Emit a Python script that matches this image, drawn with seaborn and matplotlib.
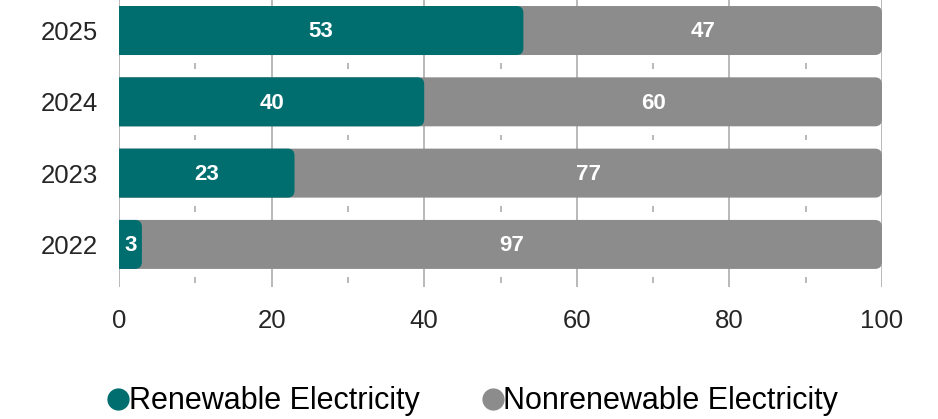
import matplotlib
matplotlib.use("Agg")
import matplotlib.pyplot as plt
from matplotlib.patches import FancyBboxPatch
from matplotlib.lines import Line2D
import pandas as pd
import seaborn as sns

years = ["2025", "2024", "2023", "2022"]
renewable = [53, 40, 23, 3]
nonrenewable = [47, 60, 77, 97]
series_names = ["Renewable Electricity", "Nonrenewable Electricity"]
colors = ["#006d6f", "#8c8c8c"]

df = pd.DataFrame({"year": years, "renewable": renewable, "nonrenewable": nonrenewable})
df["total"] = df["renewable"] + df["nonrenewable"]

sns.set_style("white")
plt.rcParams["font.family"] = ["Liberation Sans", "DejaVu Sans"]

fig = plt.figure(figsize=(9.38, 4.19), dpi=100)
ax = fig.add_axes([119 / 938, 1 - 287 / 419, 763 / 938, 287 / 419])

bar_w = 0.687
sns.barplot(data=df, y="year", x="total", color=colors[1], width=bar_w,
            orient="h", ax=ax, saturation=1, zorder=2)
sns.barplot(data=df, y="year", x="renewable", color=colors[0], width=bar_w,
            orient="h", ax=ax, saturation=1, zorder=3)

ax.set_xlim(0, 100)
ax.set_ylim(3.597, -0.428)

# swap plain rectangles for ones with rounded right corners
x_per_px = 100 / 763
y_per_px = 1 / 71.3
rad = 7 * x_per_px
ext = 2.0
for p in list(ax.patches):
    x0, y0 = p.get_x(), p.get_y()
    w, h = p.get_width(), p.get_height()
    fb = FancyBboxPatch((x0 - ext, y0), w + ext, h,
                        boxstyle=f"round,pad=0,rounding_size={rad}",
                        mutation_aspect=y_per_px / x_per_px,
                        facecolor=p.get_facecolor(), edgecolor="none",
                        zorder=p.get_zorder(), clip_on=True)
    p.remove()
    ax.add_patch(fb)

# value labels
for i in range(len(years)):
    r, n = renewable[i], nonrenewable[i]
    ax.text(r / 2, i + 0.02, str(r), ha="center", va="center", color="white",
            fontsize=16, fontweight="bold", zorder=5)
    ax.text(r + n / 2, i + 0.02, str(n), ha="center", va="center", color="white",
            fontsize=16, fontweight="bold", zorder=5)

# grid and minor marks in the gaps
ax.set_xticks([0, 20, 40, 60, 80, 100])
for xv in ax.get_xticks():
    ax.axvline(xv, color="#a6a6a6", lw=1.1, zorder=1)
half = 2.8 * y_per_px
for i in range(len(years)):
    g = i + 0.5
    ax.vlines([10, 30, 50, 70, 90], g - half, g + half, color="#a6a6a6", lw=1.1, zorder=1)

for s in ax.spines.values():
    s.set_visible(False)
ax.set_xlabel("")
ax.set_ylabel("")
ax.tick_params(axis="both", length=0, labelsize=18.5, labelcolor="#262626")
ax.tick_params(axis="x", pad=16)
ax.tick_params(axis="y", pad=15)

handles = [Line2D([], [], marker="o", linestyle="none", markersize=16,
                  markerfacecolor=c, markeredgecolor="none") for c in colors]
fig.legend(handles, series_names, loc="center", bbox_to_anchor=(0.5016, 0.042),
           ncol=2, frameon=False, fontsize=22, handletextpad=-0.15,
           columnspacing=1.9, handlelength=1.0, borderpad=0, labelcolor="black")

fig.savefig("out.png", dpi=100)
